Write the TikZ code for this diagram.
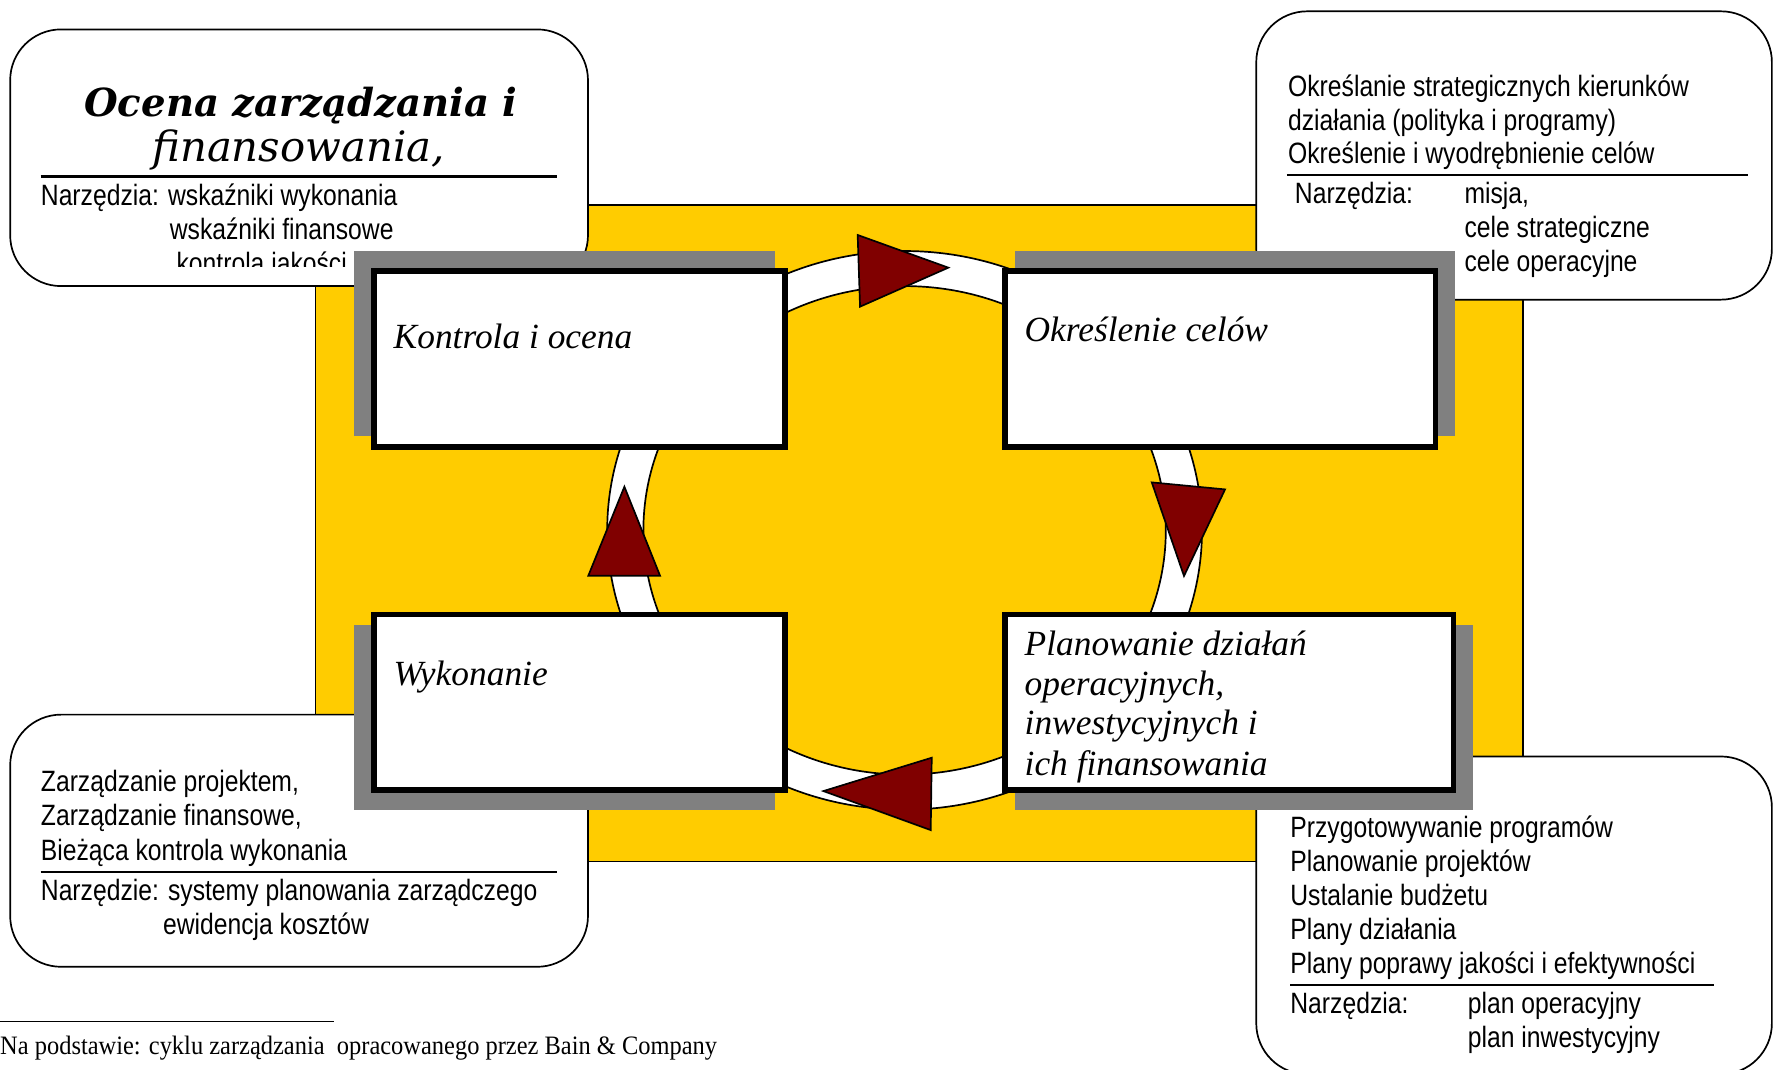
\documentclass[tikz,border=0pt]{standalone}
\usepackage{fontspec}
\setmainfont{Liberation Serif}
\newfontfamily\narrowsans[FakeStretch=0.84]{Liberation Sans}
\newfontfamily\titleserif{DejaVu Serif}
\newfontfamily\footserif[FakeStretch=0.92]{Liberation Serif}
\definecolor{ybg}{RGB}{255,204,0}
\definecolor{dred}{RGB}{128,0,0}
\definecolor{shgray}{RGB}{128,128,128}
\begin{document}
\begin{tikzpicture}[x=1pt,y=-1pt,
  sans/.style={font=\narrowsans\fontsize{26}{30}\selectfont, anchor=base west, inner sep=0pt},
  lab/.style={font=\itshape\fontsize{31.3}{35}\selectfont, anchor=base west, inner sep=0pt},
  rbox/.style={draw=black, fill=white, line width=1.5pt, rounded corners=45pt, inner sep=0pt},
  shadowbox/.style={fill=shgray, draw=none, inner sep=0pt},
  mainbox/.style={draw=black, fill=white, line width=5pt, inner sep=0pt},
  tri/.style={fill=dred, draw=black, line width=1.5pt},
  sepline/.style={line width=2pt}]

\useasboundingbox (0,0) rectangle (1568,946);
\fill[white] (0,0) rectangle (1568,946);

% yellow background
\draw[fill=ybg, line width=1.5pt] (279,181) rectangle (1347,762);

% ---- top-left rounded box
\node[rbox, minimum width=511pt, minimum height=227pt] (tl) at (264.5,139.5) {};
\node[font=\titleserif\bfseries\itshape\fontsize{34.2}{38}\selectfont, anchor=base, inner sep=0pt] (tlt1) at (266,103) {Ocena zarządzania i};
\node[font=\titleserif\itshape\fontsize{37}{40}\selectfont, anchor=base, inner sep=0pt] (tlt2) at (264,143) {finansowania,};
\coordinate (tla) at (36,156); \coordinate (tlb) at (493,156);
\draw[sepline] (tla) -- (tlb);
\node[sans] (tl1) at (36,182) {Narzędzia: wskaźniki wykonania};
\node[sans] (tl2) at (150,212) {wskaźniki finansowe};
\begin{scope}
  \clip (100,200) rectangle (420,236);
  \node[sans] (tl3) at (156,242) {kontrola jakości};
\end{scope}

% ---- top-right rounded box
\node[rbox, minimum width=456pt, minimum height=255pt] (tr) at (1339,137.5) {};
\node[sans] (tr1) at (1139,85) {Określanie strategicznych kierunków};
\node[sans] (tr2) at (1139,115) {działania (polityka i programy)};
\node[sans] (tr3) at (1139,145) {Określenie i wyodrębnienie celów};
\coordinate (tra) at (1138,155); \coordinate (trb) at (1546,155);
\draw[sepline] (tra) -- (trb);
\node[sans] (tr4) at (1145,180) {Narzędzia:};
\node[sans] (tr5) at (1295,180) {misja,};
\node[sans] (tr6) at (1295,210) {cele strategiczne};
\node[sans] (tr7) at (1295,240) {cele operacyjne};

% ---- bottom-left rounded box
\node[rbox, minimum width=511pt, minimum height=223pt] (bl) at (264.5,743.5) {};
\node[sans] (bl1) at (36,700) {Zarządzanie projektem,};
\node[sans] (bl2) at (36,730) {Zarządzanie finansowe,};
\node[sans] (bl3) at (36,761) {Bieżąca kontrola wykonania};
\coordinate (bla) at (36,771); \coordinate (blb) at (493,771);
\draw[sepline] (bla) -- (blb);
\node[sans] (bl4) at (36,796) {Narzędzie: systemy planowania zarządczego};
\node[sans] (bl5) at (144,826) {ewidencja kosztów};

% ---- bottom-right rounded box
\node[rbox, minimum width=456pt, minimum height=281pt] (br) at (1339,809.5) {};
\node[sans] (br1) at (1141,741) {Przygotowywanie programów};
\node[sans] (br2) at (1141,771) {Planowanie projektów};
\node[sans] (br3) at (1141,801) {Ustalanie budżetu};
\node[sans] (br4) at (1141,831) {Plany działania};
\node[sans] (br5) at (1141,861) {Plany poprawy jakości i efektywności};
\coordinate (bra) at (1141,871); \coordinate (brb) at (1516,871);
\draw[sepline] (bra) -- (brb);
\node[sans] (br6) at (1141,896) {Narzędzia:};
\node[sans] (br7) at (1298,896) {plan operacyjny};
\node[sans] (br8) at (1298,926) {plan inwestycyjny};

% ---- white ring
\draw[fill=white, even odd rule, line width=1.5pt]
  (800,469) ellipse [x radius=263pt, y radius=247pt]
  (800,469) ellipse [x radius=231pt, y radius=216pt];

% ---- red triangles
\draw[tri] (758.5,207.8) -- (760.6,271.2) -- (838.7,236.7) -- cycle;
\draw[tri] (1018.6,426.6) -- (1083.4,432.8) -- (1047.1,509.4) -- cycle;
\draw[tri] (728.2,699.6) -- (824,670.1) -- (823.1,734.1) -- cycle;
\draw[tri] (552.2,430.4) -- (520.3,509.1) -- (583.7,509.1) -- cycle;

% ---- shadows
\node[shadowbox, minimum width=372pt, minimum height=164pt] (ksh) at (499,304) {};
\node[shadowbox, minimum width=389pt, minimum height=164pt] (osh) at (1092.5,304) {};
\node[shadowbox, minimum width=372pt, minimum height=163pt] (wsh) at (499,634.5) {};
\node[shadowbox, minimum width=405pt, minimum height=163pt] (psh) at (1100.5,634.5) {};

% ---- main boxes
\node[mainbox, minimum width=364pt, minimum height=156pt] (kontrola) at (512.5,317.5) {};
\node[mainbox, minimum width=381pt, minimum height=156pt] (okreslenie) at (1079,317.5) {};
\node[mainbox, minimum width=364pt, minimum height=155pt] (wykonanie) at (512.5,621) {};
\node[mainbox, minimum width=397pt, minimum height=155pt] (planowanie) at (1087,621) {};

\node[lab] (kt) at (348,308) {Kontrola i ocena};
\node[lab] (ot) at (906,302) {Określenie celów};
\node[lab] (wt) at (348,606) {Wykonanie};
\node[lab] (pt1) at (906,580) {Planowanie działań};
\node[lab] (pt2) at (906,615) {operacyjnych,};
\node[lab] (pt3) at (906,650) {inwestycyjnych i};
\node[lab] (pt4) at (906,686) {ich finansowania};

% ---- footnote
\coordinate (fa) at (0,903); \coordinate (fb) at (295,903);
\draw[line width=1pt] (fa) -- (fb);
\node[font=\footserif\fontsize{23.5}{27}\selectfont, anchor=base west, inner sep=0pt] (foot) at (0,933)
  {Na podstawie: cyklu zarządzania\ \ opracowanego przez Bain \& Company};
\end{tikzpicture}
\end{document}
